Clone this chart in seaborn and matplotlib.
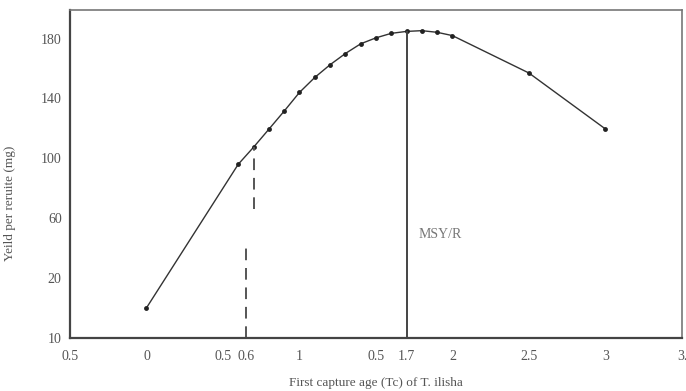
import numpy as np
import pandas as pd
import seaborn as sns
import matplotlib
matplotlib.use("Agg")
import matplotlib.pyplot as plt

# values
tc = [0, 0.6, 0.7, 0.8, 0.9, 1.0, 1.1, 1.2, 1.3, 1.4, 1.5, 1.6, 1.7, 1.8, 1.9, 2.0, 2.5, 3.0]
ypr = [15, 96, 107.4, 119.4, 131.5, 144, 154, 162.5, 170, 176.5, 180.5, 183.5, 184.8, 185.3, 184.2, 182, 157, 119.6]

xtick_pos = [-0.5, 0, 0.5, 0.65, 1, 1.5, 1.7, 2, 2.5, 3, 3.5]
xtick_lab = ["0.5", "0", "0.5", "0.6", "1", "0.5", "1.7", "2", "2.5", "3", "3."]
ytick_pos = [10, 20, 60, 100, 140, 180]
ytick_lab = ["10", "20", "60", "100", "140", "180"]

msy_x = 1.7
dash_upper_x, dash_upper_bottom = 0.7, 66
dash_lower_x, dash_lower_top = 0.65, 45

df = pd.DataFrame({"tc": tc, "ypr": ypr})

sns.set_style("white")
plt.rcParams["font.family"] = ["Liberation Serif", "DejaVu Serif"]


# the y axis of the original squeezes 10..20 into the same room as 40 units
def fwd(v):
    v = np.asarray(v, dtype=float)
    return np.where(v >= 20, v, 20 - (20 - v) * 4)


def inv(p):
    p = np.asarray(p, dtype=float)
    return np.where(p >= 20, p, 20 - (20 - p) / 4)


fig = plt.figure(figsize=(6.86, 3.91), dpi=100)
ax = fig.add_axes([0.102, 0.136, 0.892, 0.838])
ax.set_yscale("function", functions=(fwd, inv))

line_col = "#333333"
sns.lineplot(data=df, x="tc", y="ypr", ax=ax, color=line_col, lw=1.0,
             marker="o", markersize=3.5, markeredgewidth=0, markerfacecolor="#222222")

top_msy = df.loc[df["tc"] == msy_x, "ypr"].iloc[0]
ax.vlines(msy_x, 10, top_msy, color="#444444", lw=1.4)
ax.text(msy_x + 0.08, 47, "MSY/R", color="#777777", fontsize=10)

top_dash = df.loc[df["tc"] == dash_upper_x, "ypr"].iloc[0]
ax.vlines(dash_upper_x, dash_upper_bottom, top_dash, color="#555555", lw=1.4,
          linestyles=(0, (6, 4)))
ax.vlines(dash_lower_x, 10, dash_lower_top, color="#555555", lw=1.4,
          linestyles=(0, (6, 4)))

ax.set_xlim(-0.5, 3.5)
ax.set_ylim(10, 199)
ax.set_xticks(xtick_pos)
ax.set_xticklabels(xtick_lab)
ax.set_yticks(ytick_pos)
ax.set_yticklabels(ytick_lab)
ax.minorticks_off()
ax.tick_params(axis="both", length=0, labelsize=10, labelcolor="#555555")
ax.tick_params(axis="x", pad=9)
ax.tick_params(axis="y", pad=6)

for side in ["left", "bottom"]:
    ax.spines[side].set_color("#444444")
    ax.spines[side].set_linewidth(1.6)
for side in ["top", "right"]:
    ax.spines[side].set_color("#777777")
    ax.spines[side].set_linewidth(1.2)

ax.set_xlabel("First capture age (Tc) of T. ilisha", fontsize=9.5, color="#555555", labelpad=10)
ax.set_ylabel("Yeild per reruite (mg)", fontsize=9.5, color="#555555")
ax.yaxis.set_label_coords(-0.088, 0.41)

fig.savefig("out.png", dpi=100)
